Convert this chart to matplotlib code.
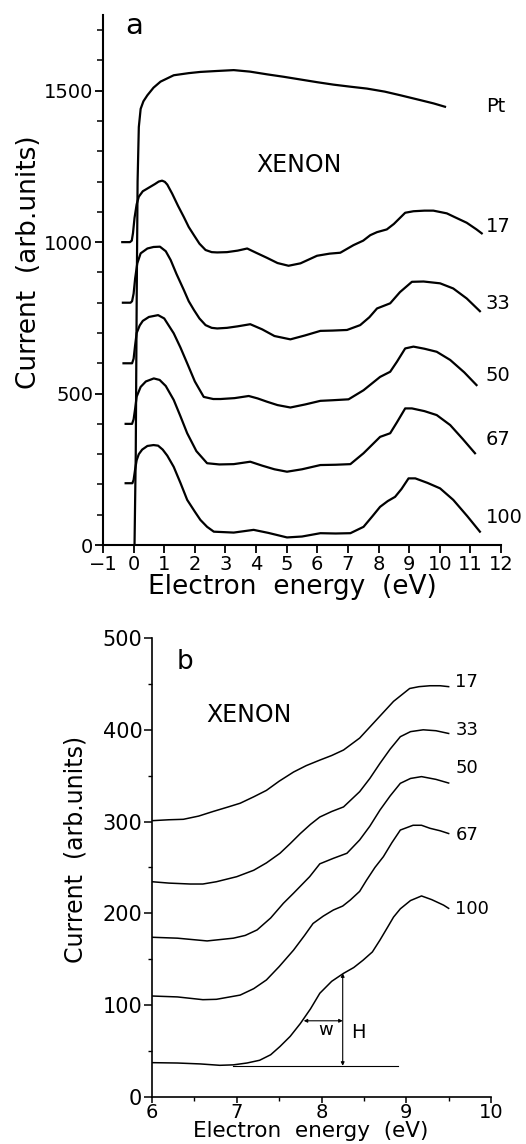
import matplotlib
matplotlib.use("Agg")
import matplotlib.pyplot as plt
from matplotlib.ticker import MultipleLocator

# ---------------- Panel a data (energy in eV, current in arb. units) ----------
pt_x = [0.03, 0.07, 0.10, 0.13, 0.17, 0.23, 0.32, 0.45, 0.65, 0.88, 1.31, 1.8, 2.18, 2.7,
        3.27, 3.8, 4.36, 4.9, 5.45, 6.0, 6.53, 7.1, 7.62, 8.2, 8.71, 9.36, 9.8, 10.17]
pt_y = [0, 300, 800, 1200, 1380, 1440, 1465, 1485, 1510, 1530, 1551, 1558, 1562, 1565,
        1568, 1563, 1554, 1546, 1537, 1528, 1520, 1513, 1507, 1497, 1485, 1469, 1458, 1447]

a17_x = [-0.37, -0.12, -0.06, -0.02, 0.03, 0.1, 0.17, 0.3, 0.5, 0.7, 0.82, 0.93, 1.02, 1.1,
         1.26, 1.45, 1.64, 1.8, 1.97, 2.15, 2.35, 2.55, 2.73, 3.05, 3.4, 3.71, 4.0, 4.36, 4.7,
         5.06, 5.45, 5.99, 6.4, 6.75, 7.18, 7.5, 7.73, 7.95, 8.27, 8.5, 8.7, 8.87, 9.14, 9.5,
         9.79, 10.23, 10.5, 10.88, 11.2, 11.37]
a17_y = [1000, 1000, 1005, 1030, 1080, 1125, 1150, 1168, 1180, 1192, 1200, 1203, 1199, 1190,
         1160, 1120, 1083, 1050, 1023, 995, 974, 967, 966, 967, 972, 979, 965, 948, 931,
         922, 930, 955, 962, 965, 990, 1005, 1023, 1033, 1042, 1060, 1080, 1097, 1102, 1104,
         1104, 1095, 1082, 1064, 1042, 1029]

a33_x = [-0.35, -0.1, -0.05, 0.0, 0.05, 0.12, 0.23, 0.45, 0.65, 0.86, 1.05, 1.21, 1.4, 1.64,
         1.8, 1.97, 2.15, 2.35, 2.55, 2.73, 3.05, 3.4, 3.81, 4.2, 4.6, 5.12, 5.6, 6.1, 6.5,
         6.97, 7.4, 7.7, 7.95, 8.38, 8.7, 9.09, 9.47, 10.01, 10.44, 10.88, 11.31]
a33_y = [800, 800, 805, 830, 880, 930, 963, 979, 984, 985, 970, 941, 895, 842,
         805, 776, 748, 726, 717, 715, 717, 722, 729, 712, 690, 679, 692, 707, 708,
         710, 726, 752, 781, 798, 835, 869, 870, 864, 847, 814, 772]

a50_x = [-0.33, -0.05, 0.0, 0.05, 0.1, 0.2, 0.3, 0.5, 0.8, 1.0, 1.31, 1.53, 1.75, 2.0,
         2.29, 2.6, 2.84, 3.3, 3.76, 4.05, 4.36, 4.7, 5.12, 5.6, 6.1, 6.5, 7.02, 7.51, 8.05,
         8.38, 8.6, 8.87, 9.14, 9.5, 9.9, 10.34, 10.8, 11.2]
a50_y = [600, 600, 615, 660, 700, 725, 740, 753, 759, 748, 699, 652, 600, 540,
         489, 482, 482, 485, 492, 484, 473, 462, 454, 464, 476, 478, 481, 511, 555,
         572, 605, 649, 655, 648, 638, 611, 570, 528]

a67_x = [-0.26, -0.05, 0.0, 0.05, 0.1, 0.23, 0.4, 0.66, 0.85, 1.05, 1.31, 1.53, 1.75, 2.05,
         2.4, 2.8, 3.27, 3.81, 4.2, 4.6, 5.01, 5.5, 6.1, 6.6, 7.08, 7.51, 8.05, 8.38, 8.6,
         8.87, 9.09, 9.5, 9.9, 10.34, 10.75, 11.15]
a67_y = [400, 400, 415, 450, 490, 522, 540, 550, 545, 525, 479, 425, 369, 310,
         270, 266, 267, 275, 262, 250, 242, 250, 264, 265, 267, 303, 357, 369, 405,
         451, 451, 442, 429, 396, 350, 303]

a100_x = [-0.26, -0.04, 0.0, 0.05, 0.1, 0.17, 0.28, 0.45, 0.65, 0.8, 0.95, 1.1, 1.31, 1.53,
          1.75, 2.0, 2.18, 2.4, 2.62, 3.27, 3.92, 4.4, 5.01, 5.5, 6.1, 6.6, 7.08, 7.51, 7.8,
          8.05, 8.3, 8.54, 8.75, 8.98, 9.2, 9.6, 10.01, 10.44, 10.9, 11.31]
a100_y = [204, 204, 215, 250, 280, 300, 315, 327, 330, 328, 315, 295, 258, 205,
          149, 110, 83, 60, 44, 41, 50, 40, 25, 28, 39, 38, 39, 60, 95,
          126, 145, 159, 185, 220, 220, 205, 187, 149, 95, 44]

a_series = [(pt_x, pt_y), (a17_x, a17_y), (a33_x, a33_y), (a50_x, a50_y),
            (a67_x, a67_y), (a100_x, a100_y)]
a_labels = ["Pt", "17", "33", "50", "67", "100"]
a_label_y = [1447, 1053, 798, 561, 347, 91]

# ---------------- Panel b data ------------------------------------------------
b17_x = [6.0, 6.2, 6.37, 6.55, 6.72, 6.9, 7.04, 7.2, 7.35, 7.5, 7.67, 7.82, 7.98, 8.12,
         8.26, 8.45, 8.65, 8.85, 9.04, 9.15, 9.28, 9.4, 9.5]
b17_y = [301, 302, 302.5, 306, 311, 316, 320, 327, 334, 344, 354, 361, 367, 372,
         378, 391, 411, 431, 445, 447, 448, 448, 447]

b33_x = [6.0, 6.2, 6.45, 6.6, 6.76, 7.0, 7.2, 7.35, 7.51, 7.63, 7.75, 7.87, 7.98, 8.12,
         8.26, 8.45, 8.57, 8.69, 8.81, 8.93, 9.05, 9.2, 9.35, 9.5]
b33_y = [234.5, 233, 232, 232, 234.5, 240, 247, 255, 265.5, 276, 287, 297, 305, 311,
         316, 332.6, 347, 363.5, 379, 392.5, 398, 400, 399, 396]

b50_x = [6.0, 6.3, 6.65, 6.96, 7.1, 7.24, 7.4, 7.55, 7.67, 7.86, 7.98, 8.14, 8.3, 8.45,
         8.57, 8.69, 8.81, 8.93, 9.05, 9.18, 9.35, 9.5]
b50_y = [174, 173, 170, 173, 176, 182, 195, 211, 222, 240, 254, 260, 265.5, 280,
         295, 312.6, 328, 341.7, 347, 349, 346, 342]

b67_x = [6.0, 6.3, 6.6, 6.76, 7.04, 7.2, 7.35, 7.5, 7.67, 7.8, 7.9, 8.02, 8.14, 8.25,
         8.34, 8.45, 8.53, 8.63, 8.73, 8.83, 8.93, 9.08, 9.18, 9.28, 9.4, 9.5]
b67_y = [110, 109, 106, 106.4, 111, 118, 127.5, 142, 160, 176, 189, 197, 203.7, 208,
         214.6, 224, 236, 250, 261.8, 277, 290.8, 296, 296, 292.7, 290, 287]

b100_x = [6.0, 6.3, 6.57, 6.8, 6.96, 7.12, 7.27, 7.4, 7.51, 7.63, 7.75, 7.87, 7.98, 8.12,
          8.26, 8.38, 8.49, 8.6, 8.69, 8.78, 8.85, 8.93, 9.05, 9.18, 9.3, 9.44, 9.5]
b100_y = [37.4, 37, 36, 34.5, 35, 37, 40, 46, 55, 66, 80, 96, 113, 126,
          134.7, 141, 149, 158, 171, 185, 196, 205, 214, 219, 215, 209, 205.5]

b_series = [(b17_x, b17_y), (b33_x, b33_y), (b50_x, b50_y), (b67_x, b67_y), (b100_x, b100_y)]
b_labels = ["17", "33", "50", "67", "100"]
b_label_y = [452, 400, 358, 285, 205]

# annotation values (panel b)
base_level = 34
base_x = [6.95, 8.9]
h_x = 8.25
h_top = 134.7
w_y = 83
w_x = [7.79, 8.25]

# ---------------- Figure ------------------------------------------------------
plt.rcParams['font.family'] = ['DejaVu Sans']
fig = plt.figure(figsize=(5.26, 11.44), dpi=100)

# Panel a
axa = fig.add_axes([0.1958, 0.5236, 0.7567, 0.4633])
for (x, y) in a_series:
    axa.plot(x, y, color='black', lw=1.6, solid_joinstyle='round')
for lab, ly in zip(a_labels, a_label_y):
    axa.text(11.5, ly, lab, fontsize=14, ha='left', va='center', clip_on=False)
axa.text(0.03, 1712, "a", fontsize=21, ha='center', va='center')
axa.text(5.39, 1254, "XENON", fontsize=17, ha='center', va='center')

axa.set_xlim(-1, 12)
axa.set_ylim(0, 1750)
axa.spines['top'].set_visible(False)
axa.spines['right'].set_visible(False)
for s in ['left', 'bottom']:
    axa.spines[s].set_linewidth(1.5)
axa.yaxis.set_major_locator(MultipleLocator(500))
axa.yaxis.set_minor_locator(MultipleLocator(100))
axa.tick_params(axis='both', which='major', direction='out', length=5.5, width=1.3,
                labelsize=14, pad=1.5)
axa.tick_params(axis='y', which='minor', direction='out', length=4.5, width=1.1)
axa.set_xticks(range(-1, 13))
axa.set_xticklabels(['\u22121'] + [str(i) for i in range(0, 13)])
axa.set_xlabel("Electron  energy  (eV)", fontsize=19)
axa.set_ylabel("Current  (arb.units)", fontsize=19)
axa.xaxis.set_label_coords(0.475, -0.055)
axa.yaxis.set_label_coords(-0.152, 0.534)

# Panel b
axb = fig.add_axes([0.289, 0.0411, 0.6445, 0.4012])
for (x, y) in b_series:
    axb.plot(x, y, color='black', lw=1.1)
for lab, ly in zip(b_labels, b_label_y):
    axb.text(9.58, ly, lab, fontsize=13, ha='left', va='center', clip_on=False)
axb.plot(base_x, [base_level, base_level], color='black', lw=0.8)
axb.annotate('', xy=(h_x, base_level), xytext=(h_x, h_top),
             arrowprops=dict(arrowstyle='<|-|>', lw=0.8, color='black',
                             mutation_scale=5, shrinkA=0, shrinkB=0))
axb.annotate('', xy=(w_x[0], w_y), xytext=(w_x[1], w_y),
             arrowprops=dict(arrowstyle='<|-|>', lw=0.8, color='black',
                             mutation_scale=5, shrinkA=0, shrinkB=0))
axb.text(8.43, 70, "H", fontsize=14, ha='center', va='center')
axb.text(8.05, 73, "w", fontsize=13, ha='center', va='center')
axb.text(6.39, 474, "b", fontsize=19, ha='center', va='center')
axb.text(7.15, 416, "XENON", fontsize=17, ha='center', va='center')

axb.set_xlim(6, 10)
axb.set_ylim(0, 500)
axb.spines['top'].set_visible(False)
axb.spines['right'].set_visible(False)
for s in ['left', 'bottom']:
    axb.spines[s].set_linewidth(1.2)
axb.xaxis.set_major_locator(MultipleLocator(1))
axb.xaxis.set_minor_locator(MultipleLocator(0.5))
axb.yaxis.set_major_locator(MultipleLocator(100))
axb.yaxis.set_minor_locator(MultipleLocator(50))
axb.tick_params(axis='y', which='major', direction='out', length=5.5, width=1.1,
                labelsize=15, pad=1.5)
axb.tick_params(axis='x', which='major', direction='out', length=4, width=1.1,
                labelsize=14, pad=0.5)
axb.tick_params(axis='both', which='minor', direction='out', length=3, width=1.0)
axb.set_xlabel("Electron  energy  (eV)", fontsize=15.5)
axb.set_ylabel("Current  (arb.units)", fontsize=17)
axb.xaxis.set_label_coords(0.469, -0.052)
axb.yaxis.set_label_coords(-0.19, 0.54)

fig.savefig("out.png", dpi=100)
